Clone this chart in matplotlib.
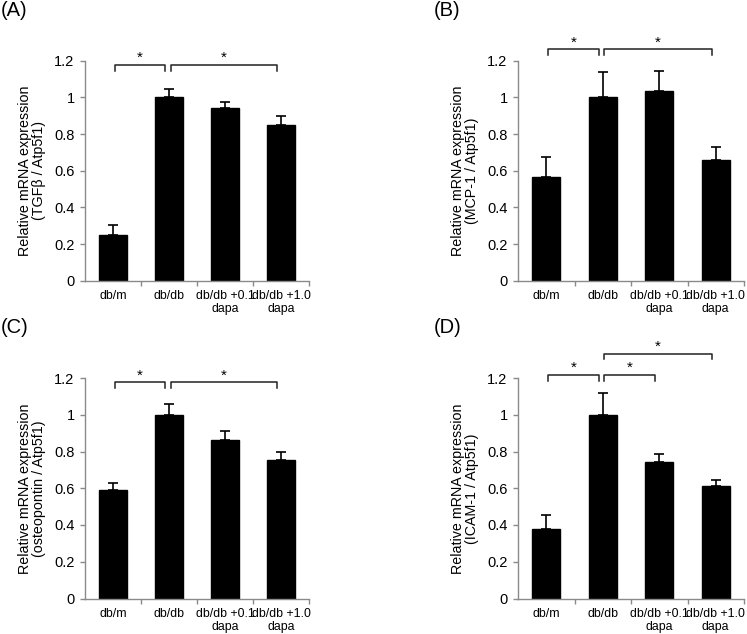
import matplotlib
matplotlib.use("Agg")
import matplotlib.pyplot as plt

plt.rcParams['font.family'] = ['Liberation Sans', 'DejaVu Sans']

# groups on the x axis
categories = ["db/m", "db/db", "db/db +0.1\ndapa", "db/db +1.0\ndapa"]

# (A) TGFb
tgfb_mean = [0.25, 1.0, 0.94, 0.85]
tgfb_err = [0.055, 0.043, 0.037, 0.048]
# (B) MCP-1
mcp1_mean = [0.567, 1.0, 1.037, 0.656]
mcp1_err = [0.11, 0.14, 0.106, 0.072]
# (C) osteopontin
opn_mean = [0.59, 1.0, 0.862, 0.752]
opn_err = [0.036, 0.056, 0.051, 0.046]
# (D) ICAM-1
icam1_mean = [0.38, 1.0, 0.743, 0.613]
icam1_err = [0.076, 0.12, 0.046, 0.03]

# significance pairs (group a, group b, tier)
tgfb_sig = [(0, 1, 0), (1, 3, 0)]
mcp1_sig = [(0, 1, 0), (1, 3, 0)]
opn_sig = [(0, 1, 0), (1, 3, 0)]
icam1_sig = [(0, 1, 0), (1, 2, 0), (1, 3, 1)]

yticks = [0, 0.2, 0.4, 0.6, 0.8, 1.0, 1.2]
ytick_labels = ["0", "0.2", "0.4", "0.6", "0.8", "1", "1.2"]

W, H = 747, 634
fig = plt.figure(figsize=(W / 100, H / 100), dpi=100)

grey = "#8a8a8a"


def panel(rect, letter, letter_xy, mean, err, sig, ylab, base, step):
    l, t, r, b = rect
    ax = fig.add_axes([l / W, 1 - b / H, (r - l) / W, (b - t) / H])
    x = list(range(len(categories)))
    ax.bar(x, mean, width=0.5, color="black", edgecolor="black", zorder=2)
    ax.errorbar(x, mean, yerr=[[0] * len(err), err], fmt="none",
                ecolor="black", elinewidth=1.2, capsize=3.5, capthick=1.2, zorder=3)
    ax.set_xlim(-0.5, 3.5)
    ax.set_ylim(0, 1.2)
    for s in ["top", "right"]:
        ax.spines[s].set_visible(False)
    for s in ["left", "bottom"]:
        ax.spines[s].set_color(grey)
        ax.spines[s].set_linewidth(1.0)
    ax.set_yticks(yticks)
    ax.set_yticklabels(ytick_labels, fontsize=10.5)
    ax.tick_params(axis="y", colors=grey, labelcolor="black", length=3.5, width=1.0, pad=4)
    ax.set_xticks([0.5, 1.5, 2.5, 3.5])
    ax.set_xticklabels([])
    ax.tick_params(axis="x", which="major", colors=grey, length=3.5, width=1.0)
    ax.set_xticks(x, minor=True)
    ax.set_xticklabels(categories, minor=True, fontsize=8.9, linespacing=1.1)
    ax.tick_params(axis="x", which="minor", length=0, pad=7, labelcolor="black")
    ax.set_ylabel(ylab, fontsize=10.3, linespacing=1.0, labelpad=6)

    for a, bb, tier in sig:
        y = base + tier * step
        x0, x1 = a + 0.03, bb - 0.07
        d = 0.032
        ax.plot([x0, x0, x1, x1], [y - d, y, y, y - d], color="#222222",
                lw=1.1, clip_on=False, zorder=4)
        ax.text((x0 + x1) / 2, y + 0.014, "*", ha="center", va="baseline",
                fontsize=11, clip_on=False)

    fig.text(letter_xy[0] / W, 1 - letter_xy[1] / H, letter, fontsize=14.5,
             ha="left", va="top")
    return ax


panel((85, 60.7, 309, 280.7), "(A)", (1, 1), tgfb_mean, tgfb_err, tgfb_sig,
      "Relative mRNA expression\n(TGF\u03b2 / Atp5f1)", 1.178, 0)
panel((518, 60.7, 744, 280.7), "(B)", (434, 1), mcp1_mean, mcp1_err, mcp1_sig,
      "Relative mRNA expression\n(MCP-1 / Atp5f1)", 1.262, 0)
panel((85, 378, 309, 598.5), "(C)", (1, 318), opn_mean, opn_err, opn_sig,
      "Relative mRNA expression\n(osteopontin / Atp5f1)", 1.178, 0)
panel((518, 378, 744, 598.5), "(D)", (434, 318), icam1_mean, icam1_err, icam1_sig,
      "Relative mRNA expression\n(ICAM-1 / Atp5f1)", 1.218, 0.115)

fig.savefig("out.png", dpi=100)
